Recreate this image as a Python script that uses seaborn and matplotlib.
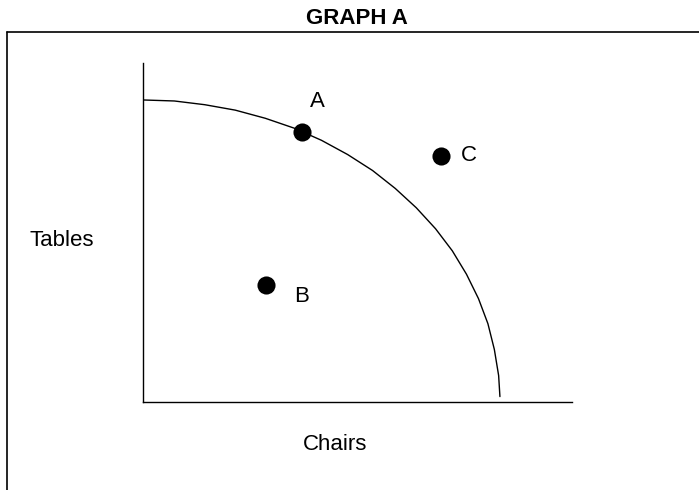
import matplotlib
matplotlib.use("Agg")
import matplotlib.pyplot as plt
import seaborn as sns
import pandas as pd
from matplotlib.lines import Line2D

# ============================================================
# DATA (arbitrary units)
# ============================================================
ppf_chairs = [0.00, 0.73, 1.44, 2.15, 2.85, 3.52, 4.16, 4.77, 5.35, 5.88,
              6.37, 6.82, 7.21, 7.54, 7.82, 8.04, 8.19, 8.29, 8.32]
ppf_tables = [8.91, 8.88, 8.77, 8.61, 8.37, 8.08, 7.72, 7.30, 6.83, 6.30,
              5.73, 5.11, 4.46, 3.77, 3.05, 2.31, 1.55, 0.78, 0.16]

point_names = ["A", "B", "C"]
point_chairs = [3.71, 2.87, 6.95]
point_tables = [7.97, 3.45, 7.26]

# ============================================================
# PLOT
# ============================================================
sns.set_style("white")
plt.rcParams['font.family'] = ['Liberation Sans', 'DejaVu Sans']
plt.rcParams['text.color'] = 'black'

fig = plt.figure(figsize=(6.99, 4.90), dpi=100)
ax = fig.add_axes([0.2046, 0.1796, 0.6137, 0.6918])

df_curve = pd.DataFrame({'Chairs': ppf_chairs, 'Tables': ppf_tables})
sns.lineplot(data=df_curve, x='Chairs', y='Tables', sort=False,
             estimator=None, color='black', linewidth=1.0, ax=ax)
ax.lines[0].set_solid_joinstyle('round')

df_pts = pd.DataFrame({'name': point_names, 'Chairs': point_chairs,
                       'Tables': point_tables})
sns.scatterplot(data=df_pts, x='Chairs', y='Tables', color='black',
                s=170, edgecolor='black', linewidth=0, ax=ax, zorder=3)

# label offsets (pixels -> points at dpi 100)
offsets = {"A": (15, 30), "B": (35, -11), "C": (28, 0)}
for name, cx, ty in zip(point_names, point_chairs, point_tables):
    dx, dy = offsets[name]
    ax.annotate(name, (cx, ty), xytext=(dx * 0.72, dy * 0.72),
                textcoords='offset points', ha='center', va='center',
                fontsize=16, color='black')

ax.set_xlim(0, 10)
ax.set_ylim(0, 10)
ax.set_xticks([])
ax.set_yticks([])
ax.set_xlabel('')
ax.set_ylabel('')
sns.despine(ax=ax)
for sp in ['left', 'bottom']:
    ax.spines[sp].set_color('black')
    ax.spines[sp].set_linewidth(1.0)

fig.text(62 / 699, 1 - 240 / 490, 'Tables', ha='center', va='center',
         fontsize=16, color='black')
fig.text(335 / 699, 1 - 444 / 490, 'Chairs', ha='center', va='center',
         fontsize=16, color='black')
fig.text(357 / 699, 1 - 19 / 490, 'GRAPH A', ha='center', va='center',
         fontsize=16, fontweight='bold', color='black')

# outer frame: top and left edges only
fig.add_artist(Line2D([7 / 699, 1.0], [1 - 32 / 490, 1 - 32 / 490],
                      transform=fig.transFigure, color='black', linewidth=1.2))
fig.add_artist(Line2D([7 / 699, 7 / 699], [0.0, 1 - 32 / 490],
                      transform=fig.transFigure, color='black', linewidth=1.2))

plt.savefig('out.png', dpi=100)
